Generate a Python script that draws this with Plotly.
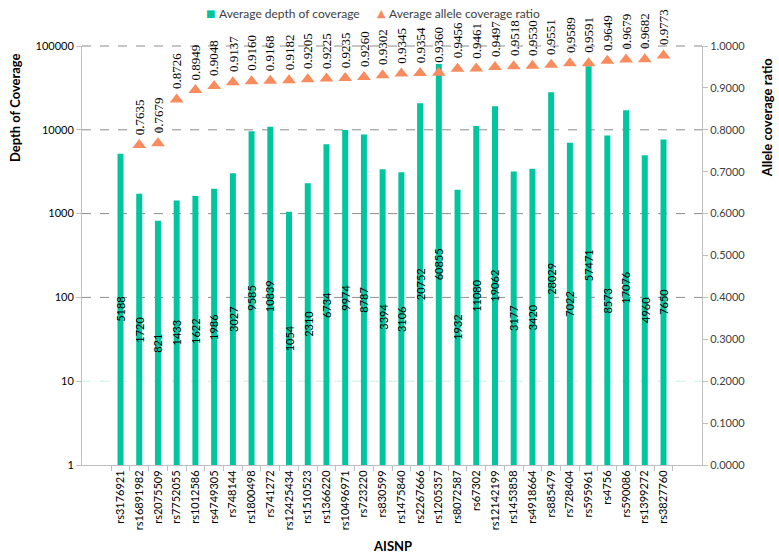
import plotly.graph_objects as go
import math

snps = ["rs3176921", "rs16891982", "rs2075509", "rs7752055", "rs1012586", "rs4749305",
        "rs748144", "rs1800498", "rs741272", "rs12425434", "rs1510523", "rs1366220",
        "rs10496971", "rs723220", "rs830599", "rs1475840", "rs2267666", "rs1205357",
        "rs8072587", "rs67302", "rs12142199", "rs1453858", "rs4918664", "rs885479",
        "rs728404", "rs595961", "rs4756", "rs590086", "rs1399272", "rs3827760"]
depth = [5188, 1720, 821, 1433, 1622, 1986, 3027, 9585, 10839, 1054, 2310, 6734,
         9974, 8787, 3394, 3106, 20752, 60855, 1932, 11080, 19062, 3177, 3420, 28029,
         7022, 57471, 8573, 17076, 4960, 7650]
ratio = [None, 0.7635, 0.7679, 0.8726, 0.8949, 0.9048, 0.9137, 0.9160, 0.9168, 0.9182,
         0.9205, 0.9225, 0.9235, 0.9260, 0.9302, 0.9345, 0.9354, 0.9360, 0.9456, 0.9461,
         0.9497, 0.9518, 0.9530, 0.9551, 0.9589, 0.9591, 0.9649, 0.9679, 0.9682, 0.9773]
depth_ticks = [1, 10, 100, 1000, 10000, 100000]
depth_ticktext = ["1", "10", "100", "1000", "10000", "100000"]
series_names = ["Average depth of coverage", "Average allele coverage ratio"]

BAR = "#00C59F"
TRI = "#F98B5E"
FONT = "Lato"
LOG_MAX = 5

fig = go.Figure()
fig.add_trace(go.Bar(x=snps, y=depth, name=series_names[0],
                     marker=dict(color=BAR, line=dict(width=0)), width=0.32,
                     yaxis="y", showlegend=False))
fig.add_trace(go.Scatter(x=snps, y=ratio, name=series_names[1],
                         mode="markers", yaxis="y2", showlegend=False,
                         marker=dict(symbol="triangle-up", size=12, color=TRI)))

ann = []
for s, d in zip(snps, depth):
    ann.append(dict(x=s, y=0.5 * math.log10(d), xref="x", yref="y", text=str(d),
                    textangle=-90, showarrow=False, xanchor="center", yanchor="middle",
                    font=dict(family=FONT, size=11, color="#000000")))
for s, r in zip(snps, ratio):
    if r is None:
        continue
    ann.append(dict(x=s, y=r, xref="x", yref="y2", text=f"{r:.4f}", textangle=-90,
                    showarrow=False, xanchor="center", yanchor="bottom", yshift=8,
                    font=dict(family="Liberation Serif", size=13, color="#000000")))

# axis titles
ann.append(dict(x=-0.108, y=0.852, xref="paper", yref="paper", text="<b>Depth of Coverage</b>",
                textangle=-90, showarrow=False, xanchor="center", yanchor="middle",
                font=dict(family=FONT, size=13, color="#000000")))
ann.append(dict(x=1.105, y=0.83, xref="paper", yref="paper", text="<b>Allele coverage ratio</b>",
                textangle=-90, showarrow=False, xanchor="center", yanchor="middle",
                font=dict(family=FONT, size=13, color="#000000")))
ann.append(dict(x=0.5, y=-0.193, xref="paper", yref="paper", text="<b>AISNP</b>",
                showarrow=False, xanchor="center", yanchor="middle",
                font=dict(family=FONT, size=13, color="#000000")))

# legend (drawn as text items)
def px(xp):
    return (xp - 82) / 620.0

leg_y = 1.0776
ann.append(dict(x=px(210), y=leg_y, xref="paper", yref="paper", text="■", showarrow=False,
                xanchor="center", yanchor="middle",
                font=dict(family="DejaVu Sans", size=10, color=BAR)))
ann.append(dict(x=px(217), y=leg_y, xref="paper", yref="paper", text=series_names[0],
                showarrow=False, xanchor="left", yanchor="middle",
                font=dict(family=FONT, size=12, color="#404040")))
ann.append(dict(x=px(381), y=leg_y, xref="paper", yref="paper", text="▲", showarrow=False,
                xanchor="center", yanchor="middle",
                font=dict(family="DejaVu Sans", size=11, color=TRI)))
ann.append(dict(x=px(387), y=leg_y, xref="paper", yref="paper", text=series_names[1],
                showarrow=False, xanchor="left", yanchor="middle",
                font=dict(family=FONT, size=12, color="#404040")))

# dashed gridlines (the 10 line is drawn faint, as in the original)
shapes = []
for v in depth_ticks[1:]:
    yp = math.log10(v) / LOG_MAX
    col = "#CFEDE5" if v == 10 else "#8C8C8C"
    shapes.append(dict(type="line", xref="paper", yref="paper", x0=0, x1=1, y0=yp, y1=yp,
                       layer="below", line=dict(color=col, width=1, dash="dash")))

fig.update_layout(
    width=779, height=560,
    margin=dict(l=82, r=77, t=46, b=95, autoexpand=False),
    paper_bgcolor="white", plot_bgcolor="white",
    font=dict(family=FONT, size=11, color="#404040"),
    showlegend=False,
    bargap=0.68,
    annotations=ann,
    shapes=shapes,
    xaxis=dict(type="category", tickangle=-90, showline=True, linecolor="#BFBFBF",
               ticks="outside", tickson="boundaries", ticklen=5, tickcolor="#BFBFBF",
               showgrid=False, tickfont=dict(family=FONT, size=11, color="#000000")),
    yaxis=dict(type="log", range=[0, LOG_MAX], tickvals=depth_ticks, ticktext=depth_ticktext,
               showline=True, linecolor="#BFBFBF", ticks="outside", ticklen=5,
               tickcolor="#BFBFBF", showgrid=False, zeroline=False,
               tickfont=dict(family=FONT, size=11, color="#000000")),
    yaxis2=dict(overlaying="y", side="right", range=[0, 1], dtick=0.1, tickformat=".4f",
                showline=True, linecolor="#BFBFBF", ticks="outside", ticklen=5,
                tickcolor="#BFBFBF", showgrid=False, zeroline=False,
                tickfont=dict(family=FONT, size=11, color="#404040")),
)

fig.write_html("out.html", config={"displayModeBar": False},
               post_script="document.body.style.margin='0';document.body.style.overflow='hidden';")
